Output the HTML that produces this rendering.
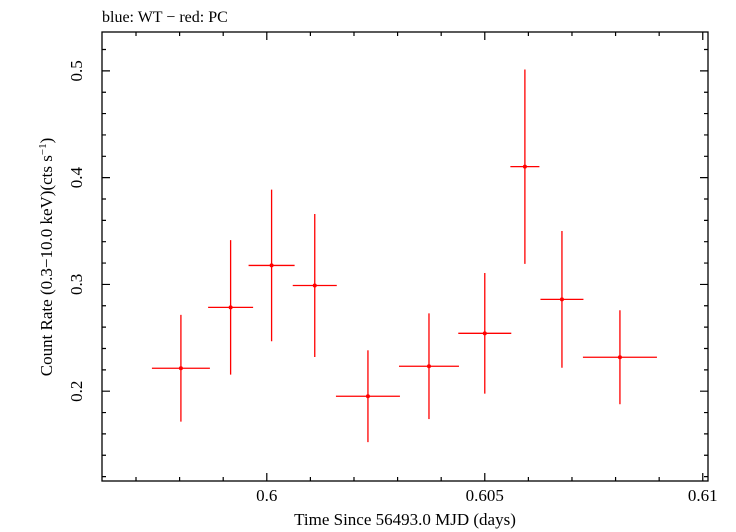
<!DOCTYPE html>
<html><head><meta charset="utf-8"><style>body{margin:0;background:#fff}svg{display:block}</style></head>
<body>
<svg width="736" height="532" xmlns="http://www.w3.org/2000/svg" font-family="Liberation Serif, serif">
<g id="frame"></g>
<g id="marks"></g>
<text x="102" y="22" font-size="16">blue: WT − red: PC</text>
<text x="405" y="525" font-size="17" text-anchor="middle">Time Since 56493.0 MJD (days)</text>
<text transform="translate(52,257) rotate(-90)" font-size="17" text-anchor="middle">Count Rate (0.3−10.0 keV)(cts s<tspan baseline-shift="super" font-size="11">−1</tspan>)</text>
<script>
const xTicks=[0.6,0.605,0.61];
const xTickLabels=["0.6","0.605","0.61"];
const yTicks=[0.2,0.3,0.4,0.5];
const yTickLabels=["0.2","0.3","0.4","0.5"];
const times=[0.59803,0.59917,0.60011,0.60110,0.60232,0.60372,0.60500,0.60592,0.60677,0.60810];
const timeErr=[0.000665,0.000516,0.000528,0.000505,0.000734,0.000688,0.000608,0.000333,0.000493,0.000849];
const rates=[0.2215,0.2785,0.3178,0.299,0.1953,0.2234,0.2542,0.4103,0.286,0.2318];
const rateErr=[0.05,0.063,0.071,0.067,0.043,0.0495,0.0565,0.091,0.064,0.044];
const L=102,R=708,T=32,B=481;
const x0=0.59622,x1=0.61012,y0=0.1159,y1=0.5364;
const X=v=>L+(v-x0)/(x1-x0)*(R-L);
const Y=v=>B-(v-y0)/(y1-y0)*(B-T);
const NS="http://www.w3.org/2000/svg";
function mk(p,tag,a){const e=document.createElementNS(NS,tag);for(const k in a)e.setAttribute(k,a[k]);p.appendChild(e);return e;}
const fr=document.getElementById('frame');
const box=mk(fr,'rect',{x:L,y:T,width:R-L,height:B-T,fill:'none',stroke:'#000','stroke-width':1.3});


let d='';
for(let i=0;i<=15;i++){const v=0.597+i*0.001;if(v>x1)break;const px=X(v);const maj=Math.abs(v*1000-Math.round(v*200)*5)<1e-6;const len=maj?8:4;d+=`M${px},${B}v${-len}M${px},${T}v${len}`;}
for(let i=0;i<=30;i++){const v=0.12+i*0.02;if(v>y1)break;const py=Y(v);const maj=Math.abs(v*10-Math.round(v*10))<1e-6;const len=maj?8:4;d+=`M${L},${py}h${len}M${R},${py}h${-len}`;}
const tk=mk(fr,'path',{d:d,stroke:'#000','stroke-width':1.2,fill:'none'});


xTicks.forEach((v,i)=>{const t=mk(fr,'text',{x:X(v),y:501,'font-size':17,'text-anchor':'middle'});t.textContent=xTickLabels[i];

});
yTicks.forEach((v,i)=>{const t=mk(fr,'text',{transform:`translate(82,${Y(v)}) rotate(-90)`,'font-size':17,'text-anchor':'middle'});t.textContent=yTickLabels[i];

});
const mg=document.getElementById('marks');
times.forEach((t,i)=>{const g=mk(mg,'g',{stroke:'#f00','stroke-width':1.3});


mk(g,'line',{x1:X(t-timeErr[i]),x2:X(t+timeErr[i]),y1:Y(rates[i]),y2:Y(rates[i])});
mk(g,'line',{x1:X(t),x2:X(t),y1:Y(rates[i]-rateErr[i]),y2:Y(rates[i]+rateErr[i])});
mk(g,'circle',{cx:X(t),cy:Y(rates[i]),r:2,fill:'#f00',stroke:'none'});});
</script>
</svg>
</body></html>
